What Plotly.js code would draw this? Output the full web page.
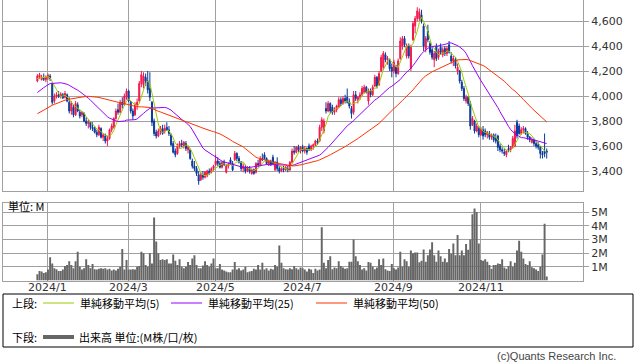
<!DOCTYPE html>
<html><head><meta charset="utf-8">
<script src="https://cdn.plot.ly/plotly-3.0.1.min.js"></script>
<style>html,body{margin:0;padding:0;background:#fff;overflow:hidden}#chart{width:638px;height:362px}</style>
</head><body><div id="chart"></div>
<script>
// ---------------- DATA ----------------
const startDate = '2023-12-25';
const holidays = ['2024-01-01','2024-01-02','2024-01-03','2024-01-08','2024-02-12','2024-02-23',
  '2024-03-20','2024-04-29','2024-05-03','2024-05-06','2024-07-15','2024-08-12','2024-09-16',
  '2024-09-23','2024-10-14','2024-11-04'];

// closes before the first visible candle (estimated from the moving averages' starting levels)
const priorCloses = [
  3640,3610,3650,3630,3600,3660,3680,3650,3620,3670,3700,3690,3660,3710,3730,3700,3680,3720,3750,3730,
  3710,3760,3740,3770,3760,
  3800,3840,3820,3870,3900,3880,3930,3950,3920,3980,
  4030,4080,4060,4120,4100,4150,4130,4170,4140,4120,4160,4110,4140,4130];

const openP = [
  4120,4150,4130,4140,4130,
  4150,4160,4100,3960,4000,4010,4000,4010,3990,4010,
  3950,3880,3910,3850,3930,3870,3850,3860,3800,3780,
  3790,3750,3740,3710,3690,3740,3670,3680,3640,3660,
  3730,3750,3820,3890,3870,3950,3930,3990,4040,3950,
  3880,3850,3930,3960,4100,4090,4150,4120,4060,3950,
  3800,3710,3680,3720,3740,3720,3750,3730,3690,3620,
  3560,3540,3600,3620,3600,3620,3570,3570,3480,3440,
  3420,3370,3330,3370,3350,3360,3400,3390,3420,3450,
  3480,3460,3430,3470,3390,3440,3490,3460,3490,3540,
  3500,3470,3420,3430,3400,3420,3380,3410,3390,3460,
  3450,3500,3530,3500,3450,3480,3510,3410,3470,3420,
  3400,3420,3410,3420,3410,3470,3560,3550,3590,3560,
  3590,3560,3580,3600,3570,3600,3610,3640,3640,3750,
  3720,3900,3880,3940,3910,3870,3890,3910,3970,3940,
  3980,3990,3950,3900,3870,4010,3970,3990,4010,4030,
  4070,3960,4040,4010,4080,4150,4090,4200,4230,4330,
  4290,4290,4230,4200,4230,4180,4300,4400,4460,4320,
  4400,4220,4450,4560,4620,4620,4650,4560,4380,4520,
  4420,4370,4290,4400,4310,4390,4330,4380,4340,4410,
  4320,4280,4290,4200,4200,4110,4060,3960,3990,3940,
  3770,3800,3720,3740,3690,3730,3720,3690,3700,3670,
  3690,3660,3680,3600,3570,3550,3530,3580,3570,3590,
  3600,3790,3760,3700,3730,3740,3700,3670,3630,3650,
  3620,3610,3590,3540,3560,3560];

const highP = [
  4175,4185,4170,4180,4165,
  4180,4175,4110,4020,4030,4040,4030,4025,4040,4020,
  3990,3960,3930,3960,3950,3890,3880,3870,3830,3810,
  3800,3790,3760,3730,3770,3750,3700,3700,3680,3740,
  3780,3830,3900,3940,3970,3990,4020,4060,4050,3960,
  3900,3950,3980,4120,4200,4190,4180,4200,4190,3960,
  3820,3730,3740,3760,3770,3770,3790,3760,3700,3640,
  3580,3620,3640,3650,3640,3640,3600,3580,3500,3480,
  3440,3400,3390,3400,3400,3410,3420,3430,3450,3530,
  3510,3480,3480,3490,3450,3470,3510,3480,3560,3550,
  3520,3480,3460,3450,3440,3440,3420,3420,3470,3490,
  3520,3540,3550,3510,3490,3490,3530,3480,3510,3440,
  3430,3440,3440,3440,3480,3580,3600,3600,3610,3600,
  3610,3600,3590,3620,3610,3620,3650,3660,3770,3830,
  3820,3950,3960,3950,3930,3910,3930,3990,3990,4000,
  4010,4060,3980,3920,4040,4040,4000,4030,4080,4090,
  4080,4060,4060,4090,4170,4160,4200,4330,4360,4350,
  4320,4300,4260,4290,4250,4300,4470,4480,4480,4420,
  4420,4410,4600,4640,4710,4700,4690,4580,4480,4570,
  4440,4400,4360,4420,4380,4420,4390,4400,4400,4440,
  4350,4320,4310,4260,4210,4130,4080,4010,4000,3960,
  3840,3810,3780,3760,3750,3760,3740,3720,3720,3700,
  3700,3700,3690,3620,3590,3580,3570,3610,3600,3680,
  3770,3810,3780,3750,3760,3750,3720,3680,3670,3660,
  3640,3630,3600,3560,3700,3580];

const lowP = [
  4110,4135,4125,4120,4110,
  4130,4120,3930,3940,3980,3985,3980,3975,3980,3950,
  3860,3850,3830,3840,3870,3820,3830,3790,3760,3740,
  3730,3720,3700,3670,3680,3660,3640,3620,3600,3650,
  3710,3740,3810,3850,3860,3900,3920,3970,3950,3860,
  3810,3840,3890,3950,4070,4060,4080,4020,3960,3760,
  3680,3660,3670,3690,3690,3700,3720,3680,3600,3540,
  3510,3530,3580,3590,3580,3560,3540,3490,3420,3400,
  3360,3290,3320,3330,3340,3350,3370,3380,3400,3440,
  3440,3420,3420,3440,3380,3420,3450,3400,3480,3480,
  3460,3400,3390,3380,3390,3380,3370,3370,3380,3430,
  3440,3480,3490,3450,3440,3440,3450,3400,3400,3380,
  3390,3390,3400,3390,3400,3460,3530,3540,3550,3540,
  3550,3540,3530,3560,3560,3570,3600,3610,3630,3720,
  3700,3860,3870,3860,3850,3850,3870,3900,3920,3930,
  3940,3940,3900,3820,3850,3960,3940,3970,4000,4020,
  4020,3930,3990,4000,4070,4060,4080,4190,4210,4270,
  4250,4200,4150,4180,4150,4170,4290,4370,4390,4300,
  4300,4200,4440,4500,4600,4600,4580,4360,4350,4430,
  4330,4290,4230,4280,4290,4330,4310,4320,4320,4340,
  4260,4240,4220,4170,4100,4040,3960,3940,3920,3730,
  3760,3700,3710,3670,3680,3650,3670,3660,3650,3650,
  3630,3620,3560,3550,3540,3520,3510,3550,3550,3580,
  3590,3660,3690,3690,3700,3690,3650,3630,3620,3600,
  3580,3570,3500,3500,3510,3500];

const closeP = [
  4160,4170,4150,4135,4150,
  4165,4140,3950,4000,4010,3995,4015,3985,4020,3960,
  3880,3940,3850,3940,3880,3840,3870,3800,3780,3790,
  3750,3740,3710,3690,3750,3670,3690,3640,3660,3730,
  3760,3820,3880,3870,3950,3930,4000,4040,3960,3880,
  3840,3930,3950,4100,4170,4160,4120,4050,3990,3790,
  3700,3680,3720,3740,3700,3740,3730,3700,3610,3550,
  3530,3600,3620,3610,3630,3580,3590,3500,3440,3420,
  3380,3320,3370,3350,3390,3400,3380,3420,3440,3480,
  3460,3430,3470,3450,3440,3450,3460,3410,3540,3500,
  3470,3420,3440,3400,3420,3400,3410,3380,3460,3450,
  3500,3490,3500,3460,3480,3450,3460,3470,3420,3400,
  3420,3410,3430,3410,3470,3560,3550,3590,3570,3590,
  3560,3580,3550,3570,3600,3610,3640,3630,3750,3810,
  3800,3880,3940,3880,3870,3890,3920,3970,3940,3980,
  3960,3950,3920,3860,4010,3980,3990,4010,4060,4070,
  4030,4040,4010,4070,4150,4080,4180,4310,4340,4290,
  4300,4220,4200,4270,4180,4280,4440,4460,4410,4400,
  4320,4390,4580,4620,4680,4670,4600,4400,4460,4450,
  4350,4310,4340,4300,4360,4350,4370,4340,4380,4350,
  4280,4300,4240,4230,4120,4060,3980,3990,3940,3760,
  3820,3720,3760,3690,3730,3680,3690,3710,3670,3690,
  3650,3640,3590,3570,3560,3540,3560,3570,3590,3660,
  3720,3680,3700,3730,3740,3700,3670,3650,3650,3620,
  3600,3590,3540,3530,3540,3550];

// volume in millions of shares
const volumeM = [
  0.45,0.7,0.65,0.55,0.6,
  0.8,1.7,1.25,0.9,0.83,0.7,0.7,0.8,1.06,1.13,
  1.4,1.13,0.9,1.4,2.1,1.0,0.8,0.9,1.55,1.13,
  0.9,1.2,0.83,0.8,0.85,0.9,0.85,0.9,0.8,0.85,
  0.73,0.8,0.73,0.85,1.0,2.3,0.8,1.5,0.8,0.8,
  0.83,0.8,1.0,1.06,2.1,2.0,1.13,1.0,2.0,1.25,
  4.6,2.85,2.0,1.5,1.55,1.5,1.55,1.25,1.25,1.9,
  1.45,1.13,1.55,1.0,0.9,1.0,1.35,1.13,1.6,1.85,
  1.13,0.9,0.9,1.1,1.4,1.13,1.0,1.25,1.6,0.9,
  0.9,1.2,0.8,0.73,0.66,0.6,0.6,0.8,1.35,0.8,
  0.9,0.73,0.8,1.0,0.6,0.66,0.7,0.85,0.8,1.13,
  0.8,1.3,0.8,0.9,0.73,0.85,0.8,1.13,1.0,2.55,
  1.3,0.9,0.83,0.8,0.9,0.83,1.06,0.9,0.8,0.95,
  0.9,0.8,0.66,0.85,0.8,0.55,0.85,0.73,0.8,3.9,
  1.3,0.9,1.5,1.77,0.83,0.95,0.9,1.4,1.06,0.95,
  0.85,0.9,1.37,1.37,3.0,1.77,1.4,1.13,0.8,0.9,
  0.73,1.35,1.3,1.0,0.83,0.95,1.55,1.13,1.6,0.83,
  0.73,0.7,1.2,0.9,0.8,0.95,2.1,1.0,1.55,1.4,
  1.0,2.2,2.0,2.05,2.05,1.33,1.45,2.27,1.37,1.85,
  2.27,2.8,1.85,1.37,2.2,1.77,1.37,1.6,1.33,2.3,
  1.96,2.7,1.85,3.33,1.85,2.2,1.85,2.67,2.25,3.0,
  4.85,5.27,5.0,2.7,1.5,1.45,1.55,1.37,1.13,0.85,
  1.13,1.13,1.25,1.2,1.55,0.95,0.85,1.06,1.4,1.0,
  1.3,2.2,2.9,2.1,1.6,1.2,1.13,1.4,0.97,0.9,
  0.8,0.7,1.0,1.9,4.15,0.3];

const maPeriods = [5, 25, 50];
const maLabels = ['単純移動平均(5)', '単純移動平均(25)', '単純移動平均(50)'];
const monthTickLabels = ['2024/1', '2024/3', '2024/5', '2024/7', '2024/9', '2024/11'];
const priceTicks = [3400, 3600, 3800, 4000, 4200, 4400, 4600];
const volumeTicks = [1, 2, 3, 4, 5];
const volumeTickLabels = ['1M', '2M', '3M', '4M', '5M'];
const upperLabel = '上段:';
const lowerLabel = '下段:';
const volumeLegendLabel = '出来高 単位:(M株/口/枚)';
const unitLabel = '単位: M';
const creditLabel = '(c)Quants Research Inc.';

// ---------------- STYLE ----------------
const maColors = ['#99cc00', '#9900ff', '#ff3300'];
const upColor = '#f5164a', downColor = '#0a3a9c';
const gridColor = '#a0a0a0';
const W = 638, H = 362;
const px = x => x / W, py = y => 1 - y / H;
const numFont = {family: 'DejaVu Sans, sans-serif', size: 11, color: '#333'};
const jpFont = {family: 'Noto Sans CJK JP, sans-serif', size: 11, color: '#000'};

// ---------------- BUILD ----------------
function tradingDays(start, count) {
  const out = [];
  const d = new Date(start + 'T00:00:00Z');
  while (out.length < count) {
    const wd = d.getUTCDay();
    const s = d.toISOString().slice(0, 10);
    if (wd !== 0 && wd !== 6 && holidays.indexOf(s) < 0) out.push(s);
    d.setUTCDate(d.getUTCDate() + 1);
  }
  return out;
}
const dates = tradingDays(startDate, closeP.length);
const allCloses = priorCloses.concat(closeP);
function sma(n) {
  return closeP.map((_, i) => {
    const k = priorCloses.length + i;
    let s = 0;
    for (let j = k - n + 1; j <= k; j++) s += allCloses[j];
    return s / n;
  });
}
const tickVals = monthTickLabels.map(l => {
  const parts = l.split('/');
  const prefix = parts[0] + '-' + parts[1].padStart(2, '0');
  return dates.find(d => d.startsWith(prefix));
});

const traces = [{
  type: 'candlestick', x: dates, open: openP, high: highP, low: lowP, close: closeP,
  xaxis: 'x', yaxis: 'y', whiskerwidth: 0, hoverinfo: 'skip',
  increasing: {line: {color: upColor, width: 1}, fillcolor: upColor},
  decreasing: {line: {color: downColor, width: 1}, fillcolor: downColor}
}];
maPeriods.forEach((n, k) => traces.push({
  type: 'scatter', mode: 'lines', x: dates, y: sma(n), xaxis: 'x', yaxis: 'y',
  line: {color: maColors[k], width: 1}, hoverinfo: 'skip'
}));
traces.push({
  type: 'bar', x: dates, y: volumeM, xaxis: 'x2', yaxis: 'y2',
  marker: {color: '#666666', line: {width: 0}}, hoverinfo: 'skip'
});

const xRange = [-16.2, 257.1];
const commonX = {
  type: 'category', range: xRange, tickvals: tickVals, ticktext: monthTickLabels,
  showgrid: true, gridcolor: gridColor, gridwidth: 1, showline: true, linecolor: gridColor,
  linewidth: 1, mirror: true, ticks: '', zeroline: false, fixedrange: true,
  domain: [px(3), px(583)], tickfont: numFont, showticklabels: false
};
const commonY = {
  side: 'right', ticks: 'outside', ticklen: 5, tickcolor: gridColor, showgrid: true,
  gridcolor: gridColor, gridwidth: 1, showline: true, linecolor: gridColor, mirror: true,
  zeroline: false, fixedrange: true, tickfont: numFont
};

const shapes = [
  {type: 'rect', xref: 'paper', yref: 'paper', x0: px(3), x1: px(633), y0: py(347), y1: py(294),
   line: {color: '#000', width: 1}, fillcolor: 'rgba(0,0,0,0)'}
];
const annotations = [
  {text: unitLabel, x: px(6), y: py(206), xanchor: 'left', yanchor: 'middle', font: jpFont},
  {text: upperLabel, x: px(10), y: py(303), xanchor: 'left', yanchor: 'middle', font: jpFont},
  {text: lowerLabel, x: px(10), y: py(337), xanchor: 'left', yanchor: 'middle', font: jpFont},
  {text: volumeLegendLabel, x: px(77), y: py(337), xanchor: 'left', yanchor: 'middle', font: jpFont},
  {text: creditLabel, x: px(618), y: py(356), xanchor: 'right', yanchor: 'middle',
   font: {family: 'Liberation Sans, Arial, sans-serif', size: 11, color: '#444'}}
];
const legendLineX = [43, 171, 316];
maLabels.forEach((lab, k) => {
  shapes.push({type: 'line', xref: 'paper', yref: 'paper', x0: px(legendLineX[k]), x1: px(legendLineX[k] + 31),
    y0: py(303), y1: py(303), line: {color: maColors[k], width: 1}});
  annotations.push({text: lab, x: px(legendLineX[k] + 35), y: py(303), xanchor: 'left', yanchor: 'middle', font: jpFont});
});
shapes.push({type: 'line', xref: 'paper', yref: 'paper', x0: px(43), x1: px(74), y0: py(337), y1: py(337),
  line: {color: '#666666', width: 4}});
annotations.forEach(a => { a.xref = 'paper'; a.yref = 'paper'; });
// month labels under the volume panel, placed at the first trading day of each month
monthTickLabels.forEach((lab, k) => annotations.push({
  text: lab, x: tickVals[k], xref: 'x2', y: py(287), yref: 'paper',
  xanchor: 'center', yanchor: 'middle', font: numFont
}));
annotations.forEach(a => { a.showarrow = false; });

const layout = {
  width: W, height: H, margin: {l: 0, r: 0, t: 0, b: 0},
  paper_bgcolor: '#fff', plot_bgcolor: '#fff', showlegend: false, hovermode: false,
  bargap: 0.08, boxgap: 0.3,
  xaxis: Object.assign({}, commonX, {anchor: 'y', rangeslider: {visible: false}}),
  xaxis2: Object.assign({}, commonX, {anchor: 'y2'}),
  yaxis: Object.assign({}, commonY, {anchor: 'x', domain: [py(191), 1], range: [3240, 4768],
    tickvals: priceTicks, tickformat: ',d'}),
  yaxis2: Object.assign({}, commonY, {anchor: 'x2', domain: [py(280.5), py(202.5)], range: [0, 5.7],
    tickvals: volumeTicks, ticktext: volumeTickLabels}),
  shapes: shapes, annotations: annotations
};
Plotly.newPlot('chart', traces, layout, {staticPlot: true, displayModeBar: false});
</script>
</body></html>
